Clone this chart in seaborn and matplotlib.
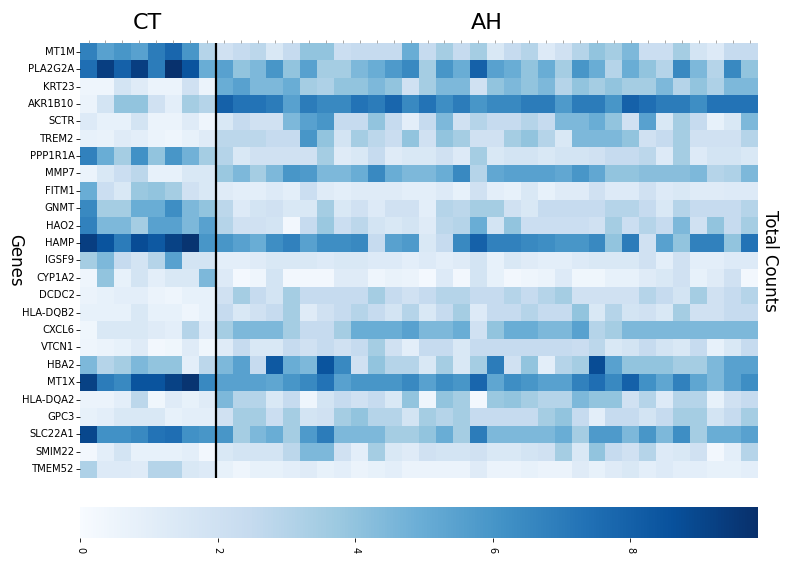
import numpy as np
import pandas as pd
import seaborn as sns
import matplotlib.pyplot as plt

# гени (рядки теплової карти)
genes = ['MT1M', 'PLA2G2A', 'KRT23', 'AKR1B10', 'SCTR', 'TREM2', 'PPP1R1A', 'MMP7',
         'FITM1', 'GNMT', 'HAO2', 'HAMP', 'IGSF9', 'CYP1A2', 'DCDC2', 'HLA-DQB2',
         'CXCL6', 'VTCN1', 'HBA2', 'MT1X', 'HLA-DQA2', 'GPC3', 'SLC22A1', 'SMIM22', 'TMEM52']

# контрольні зразки (CT), 8 колонок
ct_counts = [
    [6.8, 5.5, 6.0, 5.5, 7.0, 7.8, 6.0, 3.0],
    [7.5, 9.3, 8.0, 9.3, 7.0, 9.8, 8.5, 5.0],
    [0.5, 0.5, 1.8, 1.2, 0.6, 0.6, 2.0, 0.6],
    [0.6, 1.8, 4.0, 4.0, 2.0, 1.0, 3.5, 3.0],
    [1.3, 0.8, 0.8, 1.8, 0.6, 0.6, 1.2, 0.5],
    [0.8, 0.7, 1.2, 1.0, 0.6, 0.5, 0.8, 1.2],
    [6.8, 5.0, 3.5, 6.2, 4.0, 6.0, 4.8, 3.5],
    [0.6, 1.5, 2.2, 2.8, 0.8, 0.8, 1.5, 1.5],
    [5.0, 2.2, 1.5, 3.8, 4.0, 3.5, 2.0, 1.5],
    [6.5, 3.5, 3.5, 5.0, 5.0, 6.3, 4.5, 4.0],
    [6.8, 4.5, 4.5, 3.5, 5.5, 5.5, 4.5, 5.5],
    [9.3, 8.5, 7.0, 8.8, 8.3, 9.2, 9.7, 6.0],
    [3.5, 4.5, 2.5, 1.8, 3.0, 5.5, 1.8, 1.8],
    [0.5, 4.0, 0.8, 1.8, 1.0, 1.5, 1.5, 4.5],
    [0.6, 0.8, 1.0, 1.0, 0.6, 0.5, 0.8, 0.8],
    [0.8, 0.8, 0.8, 1.5, 0.8, 0.8, 0.5, 0.8],
    [0.4, 1.5, 1.5, 1.5, 1.2, 1.0, 3.0, 1.3],
    [0.5, 0.6, 0.8, 1.2, 0.3, 0.4, 1.2, 0.4],
    [4.5, 3.0, 3.5, 4.5, 4.0, 4.0, 1.0, 2.8],
    [9.2, 7.0, 6.5, 8.5, 8.5, 9.2, 9.7, 6.5],
    [0.6, 0.6, 1.0, 2.8, 0.4, 1.2, 0.8, 1.2],
    [0.8, 1.0, 1.5, 1.5, 1.5, 0.8, 1.0, 1.0],
    [9.0, 6.2, 6.2, 6.5, 7.3, 7.5, 6.2, 6.0],
    [0.3, 1.0, 1.8, 0.8, 0.8, 0.8, 1.0, 0.3],
    [3.2, 1.3, 1.3, 1.2, 3.0, 3.0, 1.5, 1.3],
]

# алкогольний гепатит (AH), 32 колонки
ah_counts = [
    [2.0, 2.5, 2.8, 1.5, 2.5, 4.0, 4.0, 2.2, 2.5, 2.5, 2.5, 5.0, 2.5, 3.5, 2.5, 3.5, 1.5, 2.5, 3.0, 1.3, 2.0, 3.0, 4.0, 3.5, 4.5, 2.2, 2.2, 3.5, 1.8, 1.3, 2.5, 2.5],
    [5.5, 4.0, 4.5, 6.0, 4.0, 5.5, 3.5, 3.5, 4.5, 5.0, 5.8, 6.5, 3.5, 6.0, 5.0, 8.0, 5.5, 5.0, 4.0, 5.0, 3.5, 6.0, 5.0, 3.0, 5.0, 4.0, 3.0, 6.5, 4.5, 3.0, 6.5, 4.0],
    [5.0, 5.5, 4.5, 4.5, 5.0, 3.5, 3.2, 4.0, 4.0, 4.5, 4.0, 2.0, 3.5, 4.5, 4.5, 2.0, 4.0, 4.5, 4.0, 4.5, 3.0, 4.0, 3.5, 4.0, 3.5, 3.5, 4.5, 3.0, 4.0, 3.2, 4.5, 4.5],
    [8.0, 7.3, 7.3, 7.0, 5.5, 7.0, 6.5, 6.5, 7.3, 7.0, 7.8, 6.5, 7.3, 6.3, 7.0, 6.0, 6.5, 6.5, 7.0, 7.0, 5.8, 7.0, 7.0, 6.0, 8.0, 7.5, 7.0, 7.0, 6.3, 7.3, 7.3, 7.3],
    [1.5, 2.5, 2.0, 2.0, 4.5, 5.5, 6.0, 2.5, 2.5, 4.0, 2.5, 1.0, 2.5, 4.5, 2.0, 3.0, 2.5, 2.5, 3.0, 2.5, 4.5, 4.5, 5.0, 4.0, 2.0, 5.5, 1.5, 3.5, 2.5, 0.8, 1.5, 4.5],
    [2.8, 2.8, 2.8, 2.5, 2.5, 6.0, 4.0, 1.8, 3.5, 2.8, 2.3, 4.0, 2.0, 4.0, 3.5, 2.0, 2.0, 3.5, 4.0, 3.0, 1.5, 4.5, 4.5, 4.5, 4.0, 2.0, 2.5, 3.5, 2.0, 2.0, 2.0, 3.0],
    [3.0, 1.5, 2.0, 2.0, 2.0, 2.0, 3.5, 1.2, 1.5, 2.5, 1.2, 1.5, 1.5, 2.0, 1.3, 3.5, 1.5, 1.8, 1.8, 1.5, 1.8, 1.8, 2.0, 2.5, 2.5, 2.8, 1.3, 3.5, 1.3, 1.8, 1.8, 1.5],
    [3.8, 4.5, 3.5, 4.5, 6.0, 5.8, 4.5, 4.5, 5.0, 6.5, 5.0, 4.5, 4.5, 5.0, 6.5, 3.0, 5.2, 5.5, 5.5, 5.5, 5.2, 6.0, 5.2, 4.0, 4.0, 4.2, 4.2, 4.2, 4.5, 3.0, 3.2, 4.5],
    [1.2, 1.0, 1.0, 1.3, 1.0, 2.2, 1.2, 1.0, 1.2, 1.2, 1.2, 1.0, 1.0, 1.3, 0.8, 2.0, 1.0, 0.8, 1.5, 0.8, 1.2, 1.2, 2.0, 1.3, 1.3, 2.0, 1.3, 1.5, 1.2, 1.2, 1.3, 1.3],
    [2.8, 1.3, 1.8, 2.0, 1.5, 1.5, 3.5, 1.5, 2.0, 1.3, 2.0, 2.0, 1.0, 3.0, 2.8, 3.5, 3.5, 2.0, 1.5, 2.5, 2.5, 2.5, 2.5, 3.0, 3.0, 2.5, 1.5, 3.0, 2.5, 2.5, 2.5, 3.0],
    [3.0, 2.0, 2.0, 1.8, 0.3, 2.5, 3.8, 2.2, 2.8, 1.8, 1.5, 1.8, 1.2, 2.8, 3.0, 5.0, 1.8, 4.0, 2.2, 2.2, 2.2, 2.2, 2.0, 3.5, 2.2, 3.0, 2.5, 4.5, 2.0, 4.0, 2.5, 3.5],
    [6.0, 5.5, 5.0, 6.3, 6.8, 5.5, 6.3, 6.3, 6.5, 2.5, 5.5, 5.8, 1.5, 2.5, 6.5, 8.0, 6.8, 6.8, 6.5, 6.3, 6.0, 6.0, 6.5, 4.0, 7.0, 2.0, 5.5, 4.0, 6.8, 6.8, 4.0, 7.3],
    [1.0, 1.0, 1.2, 1.5, 1.5, 1.5, 1.3, 1.5, 1.5, 1.3, 1.3, 1.0, 1.3, 1.0, 1.2, 1.8, 0.8, 1.5, 1.2, 1.0, 1.0, 1.3, 1.5, 1.5, 1.5, 2.0, 1.0, 2.0, 1.0, 1.0, 1.3, 1.3],
    [1.3, 0.2, 0.5, 1.8, 0.3, 0.3, 0.3, 1.2, 1.2, 0.5, 0.7, 0.6, 0.2, 1.3, 0.3, 1.8, 0.8, 0.3, 0.5, 0.6, 1.3, 0.4, 0.4, 0.8, 0.8, 1.2, 1.5, 2.0, 0.8, 1.2, 2.0, 0.3],
    [2.0, 3.5, 2.5, 1.8, 3.5, 2.5, 2.5, 2.5, 2.5, 3.5, 2.5, 2.0, 2.5, 3.0, 3.0, 2.5, 2.5, 3.0, 2.5, 3.0, 3.5, 2.0, 2.0, 2.0, 2.0, 3.0, 2.5, 1.8, 3.5, 2.0, 2.5, 3.0],
    [2.5, 1.5, 2.0, 2.5, 3.5, 1.2, 2.0, 2.5, 3.0, 2.5, 1.8, 3.0, 1.5, 2.5, 3.5, 1.3, 2.5, 2.5, 3.0, 2.5, 2.5, 4.0, 1.5, 3.0, 1.8, 2.0, 1.5, 3.5, 2.0, 2.0, 2.5, 2.5],
    [3.5, 4.5, 4.5, 4.5, 3.5, 2.5, 2.5, 3.5, 5.0, 5.0, 5.0, 5.5, 4.5, 4.5, 5.0, 2.0, 4.0, 5.0, 5.0, 4.5, 4.5, 5.5, 3.0, 3.5, 4.5, 4.5, 4.5, 4.5, 4.5, 4.5, 4.5, 4.5],
    [1.2, 2.5, 1.5, 1.5, 2.5, 2.0, 2.5, 2.0, 2.5, 3.5, 2.0, 1.0, 2.5, 2.5, 1.5, 2.5, 2.5, 2.5, 2.5, 2.5, 2.5, 2.3, 2.8, 1.5, 1.8, 2.5, 1.8, 1.5, 2.5, 0.8, 1.5, 2.5],
    [4.5, 5.5, 2.5, 8.3, 5.0, 4.5, 8.5, 6.5, 2.0, 4.0, 3.0, 3.0, 1.5, 3.5, 1.5, 3.5, 7.0, 2.0, 4.0, 1.0, 3.0, 3.5, 8.8, 5.5, 4.0, 4.0, 4.0, 3.5, 3.5, 4.5, 5.5, 5.5],
    [5.5, 5.5, 5.5, 5.3, 6.0, 6.5, 7.3, 5.5, 6.0, 6.0, 6.0, 6.5, 5.5, 6.3, 6.0, 7.8, 5.3, 6.3, 6.0, 5.5, 5.5, 6.8, 7.5, 6.5, 8.0, 6.2, 5.3, 6.8, 5.3, 4.5, 5.5, 6.3],
    [4.5, 3.0, 3.0, 1.5, 2.5, 0.5, 1.8, 2.5, 2.0, 2.5, 1.5, 4.0, 0.5, 4.0, 3.5, 0.3, 3.8, 4.0, 3.5, 3.0, 3.0, 4.5, 4.0, 4.0, 2.0, 3.0, 1.3, 3.0, 3.0, 0.8, 2.0, 2.5],
    [2.0, 3.5, 3.5, 2.2, 3.5, 1.8, 2.0, 3.5, 4.0, 3.0, 3.0, 1.8, 3.5, 3.0, 3.5, 2.5, 2.5, 2.5, 2.5, 3.5, 4.0, 2.5, 1.0, 2.5, 2.5, 1.8, 2.5, 3.5, 3.5, 1.8, 2.5, 3.5],
    [6.0, 3.5, 4.5, 5.0, 3.5, 5.8, 7.0, 4.5, 4.5, 4.5, 3.5, 3.5, 4.0, 5.0, 3.5, 7.0, 4.5, 4.5, 4.5, 4.5, 5.0, 3.5, 5.8, 5.8, 4.5, 6.0, 4.5, 6.3, 3.5, 5.0, 5.0, 5.5],
    [1.5, 1.8, 1.8, 1.8, 2.8, 4.5, 4.5, 2.0, 1.0, 3.5, 1.5, 1.2, 2.0, 1.8, 1.8, 2.0, 1.5, 1.5, 1.8, 2.0, 3.5, 1.5, 4.0, 2.5, 2.0, 3.0, 1.3, 1.5, 2.0, 0.3, 1.0, 3.0],
    [0.8, 0.5, 0.8, 0.8, 1.0, 1.2, 0.8, 1.0, 0.6, 0.8, 1.0, 0.6, 0.6, 0.6, 0.6, 1.2, 0.6, 0.6, 0.8, 0.6, 0.6, 1.2, 0.8, 1.2, 1.5, 1.0, 1.3, 1.0, 1.0, 0.8, 0.8, 1.0],
]

cbar_ticks = [0, 2, 4, 6, 8]

ct_df = pd.DataFrame(ct_counts, index=genes)
ah_df = pd.DataFrame(ah_counts, index=genes)
df = pd.concat([ct_df, ah_df], axis=1, ignore_index=True)
n_ct = ct_df.shape[1]

fig = plt.figure(figsize=(7.85, 5.69), dpi=100)
ax = fig.add_axes([0.102, 0.16, 0.8636, 0.7644])
cax = fig.add_axes([0.102, 0.0545, 0.8636, 0.0545])

sns.heatmap(df, cmap='Blues', vmin=0, vmax=9.86, ax=ax, cbar_ax=cax,
            cbar_kws={'orientation': 'horizontal', 'ticks': cbar_ticks},
            xticklabels=False, yticklabels=genes)

# межа між CT та AH
ax.axvline(n_ct, color='black', lw=1.6)

# дрібні мітки зверху без підписів
ax.set_xticks(np.arange(df.shape[1]) + 0.5)
ax.set_xticklabels([])
ax.tick_params(axis='x', top=True, bottom=False, length=2, width=0.6, colors='#999999')
ax.tick_params(axis='y', length=3, width=0.6, labelsize=8, pad=1)
for lab in ax.get_yticklabels():
    lab.set_rotation(0)
    lab.set_fontstretch('condensed')
ax.set_xlabel('')
ax.set_ylabel('Genes', rotation=270, fontsize=12, va='center')
ax.yaxis.set_label_coords(-0.096, 0.5)

ax.text(n_ct / 2, -0.6, 'CT', ha='center', va='bottom', fontsize=16)
ax.text(n_ct + (df.shape[1] - n_ct) / 2, -0.6, 'AH', ha='center', va='bottom', fontsize=16)
ax.text(1.004, 0.5, 'Total Counts', transform=ax.transAxes, rotation=270,
        ha='left', va='center', fontsize=12)

cax.tick_params(labelsize=7, length=3, width=0.6)
for lab in cax.get_xticklabels():
    lab.set_rotation(270)

fig.savefig('out.png', dpi=100)
